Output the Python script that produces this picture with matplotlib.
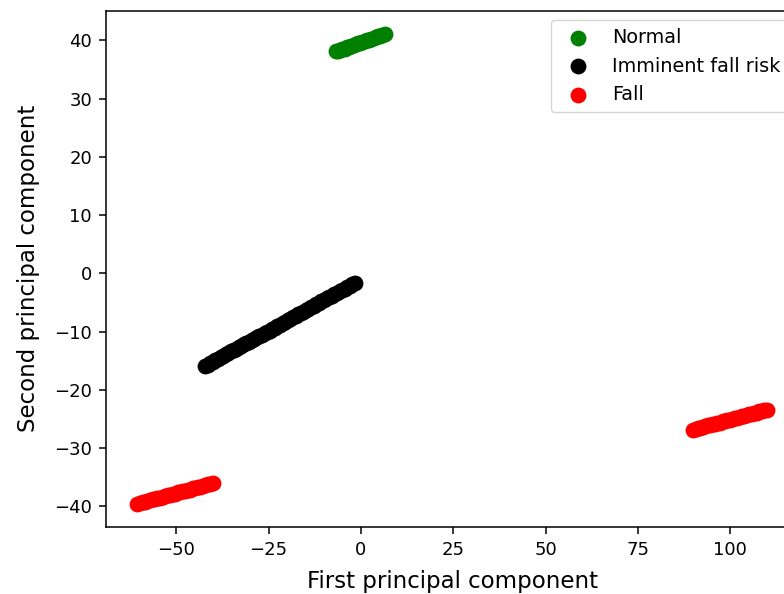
import matplotlib
matplotlib.use('Agg')
from matplotlib import pyplot as plt

# PCA projections
normal_x = [-6.8, -6.2, -5.6, -5.0, -4.4, -3.8, -3.2, -2.6, -2.0, -1.4, -0.8, -0.2,
            0.4, 1.0, 1.6, 2.2, 2.8, 3.4, 4.0, 4.6, 5.2, 5.8, 6.4]
normal_y = [38.1, 38.2, 38.4, 38.5, 38.6, 38.8, 38.9, 39.1, 39.2, 39.3, 39.5, 39.6,
            39.7, 39.9, 40.0, 40.1, 40.3, 40.4, 40.5, 40.7, 40.8, 41.0, 41.1]

risk_x = [-42.2, -41.5, -40.8, -40.1, -39.4, -38.7, -38.0, -37.3, -36.6, -35.9,
          -35.2, -34.5, -33.8, -33.1, -32.4, -31.7, -31.0, -30.3, -29.6, -28.9,
          -28.2, -27.5, -26.8, -26.1, -25.4, -24.7, -24.0, -23.3, -22.6, -21.9,
          -21.2, -20.5, -19.8, -19.1, -18.4, -17.7, -17.0, -16.3, -15.6, -14.9,
          -14.2, -13.5, -12.8, -12.1, -11.4, -10.7, -10.0, -9.3, -8.6, -7.9,
          -7.2, -6.5, -5.8, -5.1, -4.4, -3.7, -3.0, -2.3, -1.6]
risk_y = [-15.9, -15.7, -15.4, -15.2, -14.9, -14.7, -14.4, -14.2, -13.9, -13.7,
          -13.4, -13.2, -12.9, -12.7, -12.5, -12.2, -12.0, -11.7, -11.5, -11.2,
          -11.0, -10.7, -10.5, -10.2, -10.0, -9.8, -9.5, -9.3, -9.0, -8.8,
          -8.5, -8.3, -8.0, -7.8, -7.5, -7.3, -7.0, -6.8, -6.6, -6.3,
          -6.1, -5.8, -5.6, -5.3, -5.1, -4.8, -4.6, -4.3, -4.1, -3.8,
          -3.6, -3.4, -3.1, -2.9, -2.6, -2.4, -2.1, -1.9, -1.6]

fall_x = [-60.5, -59.8, -59.1, -58.5, -57.8, -57.1, -56.4, -55.7, -55.1, -54.4,
          -53.7, -53.0, -52.3, -51.7, -51.0, -50.3, -49.6, -48.9, -48.3, -47.6,
          -46.9, -46.2, -45.5, -44.9, -44.2, -43.5, -42.8, -42.1, -41.5, -40.8, -40.1,
          89.9, 90.6, 91.2, 91.9, 92.6, 93.2, 93.9, 94.5, 95.2, 95.9,
          96.5, 97.2, 97.9, 98.5, 99.2, 99.8, 100.5, 101.2, 101.8, 102.5,
          103.2, 103.8, 104.5, 105.1, 105.8, 106.5, 107.1, 107.8, 108.5, 109.1, 109.8]
fall_y = [-39.5, -39.4, -39.3, -39.2, -39.0, -38.9, -38.8, -38.7, -38.6, -38.5,
          -38.3, -38.2, -38.1, -38.0, -37.9, -37.8, -37.6, -37.5, -37.4, -37.3,
          -37.2, -37.1, -36.9, -36.8, -36.7, -36.6, -36.5, -36.4, -36.2, -36.1, -36.0,
          -26.8, -26.7, -26.6, -26.5, -26.3, -26.2, -26.1, -26.0, -25.9, -25.8,
          -25.7, -25.6, -25.4, -25.3, -25.2, -25.1, -25.0, -24.9, -24.8, -24.6,
          -24.5, -24.4, -24.3, -24.2, -24.1, -24.0, -23.9, -23.7, -23.6, -23.5, -23.4]

fig = plt.figure(figsize=(7.84, 5.94), dpi=100)
# axes run a little past the right edge, as in the (cropped) reference
ax = fig.add_axes([0.1352, 0.1128, 0.8827, 0.8695])

ax.scatter(normal_x, normal_y, c='green', s=108, label='Normal')
ax.scatter(risk_x, risk_y, c='black', s=108, label='Imminent fall risk')
ax.scatter(fall_x, fall_y, c='red', s=108, label='Fall')

ax.set_xlabel('First principal component', fontsize=16.5, labelpad=8)
ax.set_ylabel('Second principal component', fontsize=16.5, labelpad=10)
ax.tick_params(labelsize=13, length=5, width=1.1, pad=5)
for sp in ax.spines.values():
    sp.set_linewidth(1.1)

ax.legend(loc='upper right', fontsize=13.9)

fig.savefig('out.png', dpi=100)
